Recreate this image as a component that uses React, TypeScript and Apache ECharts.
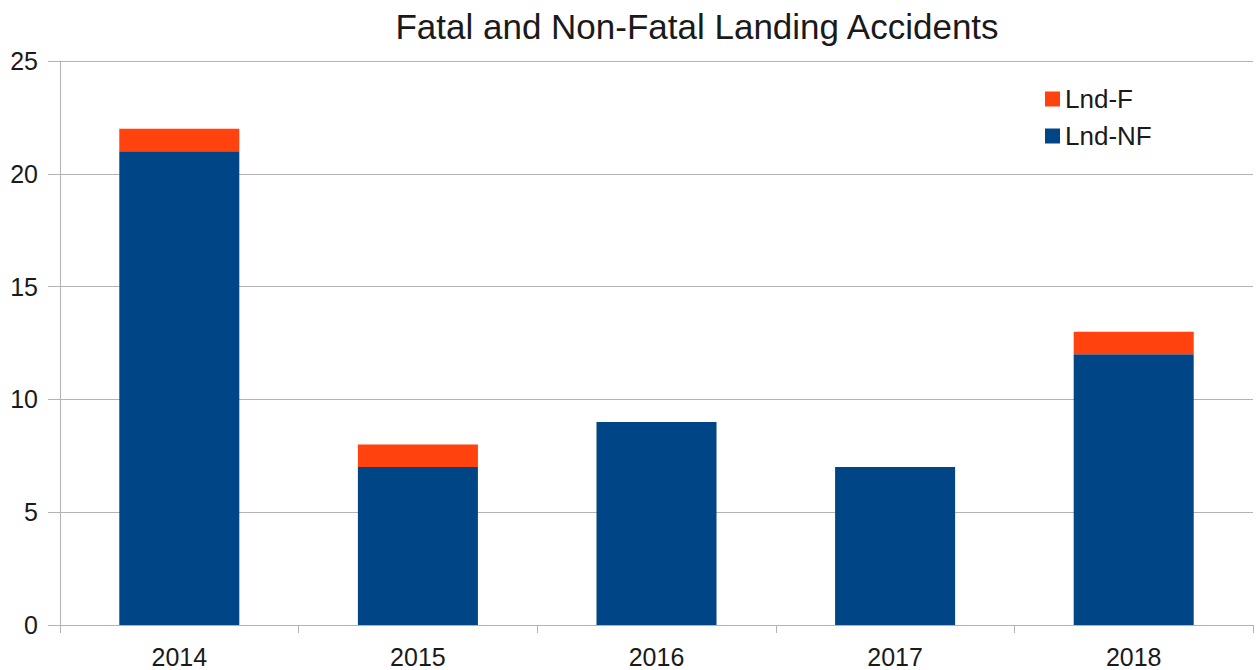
import React, { useEffect, useRef } from "react";
import * as echarts from "echarts";

const categories = ["2014", "2015", "2016", "2017", "2018"];
const lndNF = [21, 7, 9, 7, 12];
const lndF = [1, 1, 0, 0, 1];
const yTicks = { min: 0, max: 25, interval: 5 };
const titleText = "Fatal and Non-Fatal Landing Accidents";

export default function App() {
  const ref = useRef<HTMLDivElement>(null);
  useEffect(() => {
    if (!ref.current) return;
    const chart = echarts.init(ref.current, null, { renderer: "svg" });
    const font = "'Liberation Sans', Arial, sans-serif";
    chart.setOption({
      animation: false,
      backgroundColor: "#ffffff",
      textStyle: { fontFamily: font },
      title: {
        text: titleText,
        left: 692,
        textAlign: "center",
        top: 4,
        textStyle: { fontFamily: font, fontSize: 35, fontWeight: "normal", color: "#1a1a1a" },
      },
      legend: {
        data: ["Lnd-F", "Lnd-NF"],
        orient: "vertical",
        left: 1040,
        top: 81,
        itemWidth: 15,
        itemHeight: 15,
        itemGap: 11,
        icon: "rect",
        textStyle: { fontFamily: font, fontSize: 26, color: "#1a1a1a" },
      },
      grid: { left: 60, right: 4, top: 61, bottom: 45, containLabel: false },
      xAxis: {
        type: "category",
        data: categories,
        axisLine: { lineStyle: { color: "#b3b3b3" } },
        axisTick: { show: true, length: 8, lineStyle: { color: "#b3b3b3" } },
        axisLabel: { fontFamily: font, fontSize: 25, color: "#1a1a1a", margin: 19 },
      },
      yAxis: {
        type: "value",
        min: yTicks.min,
        max: yTicks.max,
        interval: yTicks.interval,
        axisLine: { show: true, lineStyle: { color: "#b3b3b3" } },
        axisTick: { show: true, length: 12, lineStyle: { color: "#b3b3b3" } },
        splitLine: { show: true, lineStyle: { color: "#b3b3b3" } },
        axisLabel: { fontFamily: font, fontSize: 25, color: "#1a1a1a", margin: 22 },
      },
      series: [
        {
          name: "Lnd-NF",
          type: "bar",
          stack: "total",
          data: lndNF,
          barWidth: "50.3%",
          itemStyle: { color: "#004586" },
        },
        {
          name: "Lnd-F",
          type: "bar",
          stack: "total",
          data: lndF,
          barWidth: "50.3%",
          itemStyle: { color: "#ff420e" },
        },
      ],
    });
    return () => chart.dispose();
  }, []);
  return (
    <div
      ref={ref}
      style={{ position: "absolute", left: 0, top: 0, width: 1257, height: 670 }}
    />
  );
}
